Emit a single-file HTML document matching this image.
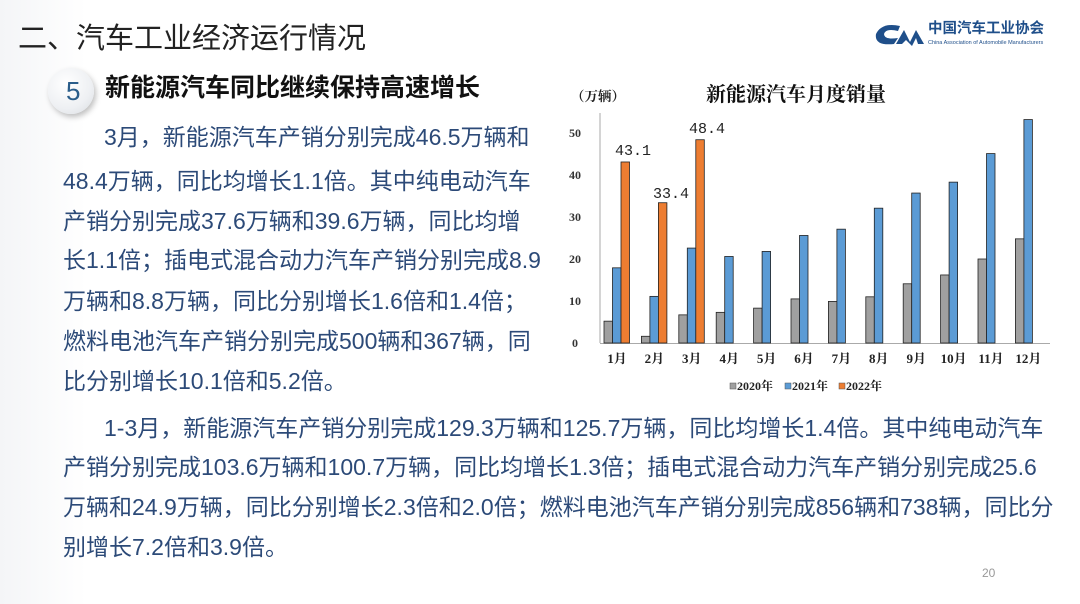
<!DOCTYPE html>
<html><head><meta charset="utf-8">
<style>
body{margin:0;width:1080px;height:604px;background:#fff;position:relative;overflow:hidden;font-family:"Liberation Sans","Noto Sans CJK SC",sans-serif}
.t{position:absolute;white-space:nowrap;color:#2c4a78;font-size:23px;line-height:1}
</style></head><body>
<div style="position:absolute;left:0;top:0;width:1080px;height:604px;background:linear-gradient(90deg,#f4f5f7 0,#fff 8%,#fff 100%)"></div>
<div class="t" style="left:18px;top:25px;font-size:29px;color:#222;">二、汽车工业经济运行情况</div>
<div style="position:absolute;left:48px;top:68px;width:46px;height:46px;border-radius:50%;background:radial-gradient(circle at 40% 35%,#fff 0,#eef0f3 60%,#d8dbe0 100%);box-shadow:2px 3px 6px rgba(0,0,0,.25)"></div>
<div class="t" style="left:66px;top:78px;font-size:26px;color:#2a5d8a;">5</div>
<div class="t" style="left:105px;top:76px;font-size:25px;color:#111;font-weight:bold;">新能源汽车同比继续保持高速增长</div>
<svg style="position:absolute;left:872px;top:20px" width="60" height="30"><path d="M28 6 Q10 2 4 14 Q2 26 22 24 L26 18 Q12 20 12 14 Q14 8 26 11Z" fill="#1f4f8a"/><path d="M24 24 L32 10 L38 22 L44 10 L52 24 L46 24 L44 18 L40 26 L34 20 L30 24Z" fill="#1f4f8a"/></svg>
<div class="t" style="left:928px;top:22px;font-size:14.5px;color:#1f4f8a;font-weight:bold;">中国汽车工业协会</div>
<div class="t" style="left:928px;top:41px;font-size:5.5px;color:#1f4f8a;">China Association of Automobile Manufacturers</div>

<div class="t" style="left:104px;top:126px">3月，新能源汽车产销分别完成46.5万辆和</div>
<div class="t" style="left:63px;top:170px">48.4万辆，同比均增长1.1倍。其中纯电动汽车</div>
<div class="t" style="left:63px;top:210px">产销分别完成37.6万辆和39.6万辆，同比均增</div>
<div class="t" style="left:63px;top:249px">长1.1倍；插电式混合动力汽车产销分别完成8.9</div>
<div class="t" style="left:63px;top:290px">万辆和8.8万辆，同比分别增长1.6倍和1.4倍；</div>
<div class="t" style="left:63px;top:330px">燃料电池汽车产销分别完成500辆和367辆，同</div>
<div class="t" style="left:63px;top:370px">比分别增长10.1倍和5.2倍。</div>
<div class="t" style="left:104px;top:417px">1-3月，新能源汽车产销分别完成129.3万辆和125.7万辆，同比均增长1.4倍。其中纯电动汽车</div>
<div class="t" style="left:63px;top:456px">产销分别完成103.6万辆和100.7万辆，同比均增长1.3倍；插电式混合动力汽车产销分别完成25.6</div>
<div class="t" style="left:63px;top:496px">万辆和24.9万辆，同比分别增长2.3倍和2.0倍；燃料电池汽车产销分别完成856辆和738辆，同比分</div>
<div class="t" style="left:63px;top:536px">别增长7.2倍和3.9倍。</div>
<div class="t" style="left:982px;top:567px;font-size:12px;color:#999;">20</div>

<svg style="position:absolute;left:0;top:0" width="1080" height="604" font-family="Liberation Serif,Noto Serif CJK SC,serif">
<text x="706" y="101" font-size="20" font-weight="bold" fill="#111">新能源汽车月度销量</text>
<text x="598" y="101" font-size="13.5" fill="#222" text-anchor="middle" font-weight="bold">（万辆）</text>
<line x1="600" y1="113" x2="600" y2="343" stroke="#aaa"/>
<line x1="600" y1="343.5" x2="1050" y2="343.5" stroke="#aaa"/>
<g font-size="12" fill="#333" text-anchor="middle" font-weight="bold">
<text x="575" y="347">0</text><text x="575" y="305">10</text><text x="575" y="263">20</text><text x="575" y="221">30</text><text x="575" y="179">40</text><text x="575" y="137">50</text>
</g>
<g id="bars" stroke="#222" stroke-width="0.8"></g>
<g font-size="13" fill="#222" text-anchor="middle" font-weight="bold" id="xl"></g>
<g font-size="15" fill="#222" text-anchor="middle" font-family="Liberation Mono,monospace">
<text x="633" y="155">43.1</text><text x="671" y="198">33.4</text><text x="707" y="133">48.4</text>
</g>
<g font-size="12" fill="#222" font-weight="bold">
<rect x="730" y="383" width="6" height="6" fill="#a0a0a0" stroke="#555" stroke-width=".5"/><text x="737" y="390">2020年</text>
<rect x="785" y="383" width="6" height="6" fill="#5b9bd5" stroke="#555" stroke-width=".5"/><text x="792" y="390">2021年</text>
<rect x="839" y="383" width="6" height="6" fill="#ed7d31" stroke="#555" stroke-width=".5"/><text x="846" y="390">2022年</text>
</g>
</svg>
<script>
var g=[5.2,1.6,6.7,7.3,8.3,10.5,9.9,11,14.1,16.2,20,24.8];
var b=[17.9,11.1,22.6,20.6,21.8,25.6,27.1,32.1,35.7,38.3,45.1,53.2];
var o=[43.1,33.4,48.4];
var s='',l='';
function r(x,v,f){return '<rect x="'+x+'" y="'+(343-v*4.2)+'" width="8.5" height="'+(v*4.2)+'" fill="'+f+'"/>';}
for(var i=0;i<12;i++){var c=617+i*37.4;
s+=r(c-13,g[i],'#a0a0a0')+r(c-4.5,b[i],'#5b9bd5');
if(i<3)s+=r(c+4,o[i],'#ed7d31');
l+='<text x="'+c+'" y="363">'+(i+1)+'月</text>';}
document.getElementById('bars').innerHTML=s;
document.getElementById('xl').innerHTML=l;
</script>
</body></html>
